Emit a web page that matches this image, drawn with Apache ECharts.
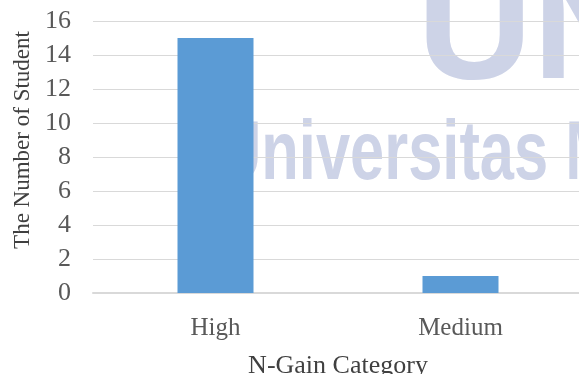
<!DOCTYPE html>
<html>
<head>
<meta charset="utf-8">
<script src="https://cdn.jsdelivr.net/npm/echarts@6/dist/echarts.min.js"></script>
<style>
html, body { margin: 0; padding: 0; background: #fff; }
#main { width: 579px; height: 374px; }
</style>
</head>
<body>
<div id="main"></div>
<script>
var myChart = echarts.init(document.getElementById('main'));

var categories = ['High', 'Medium'];
var students = [15, 1];
var yTicks = { min: 0, max: 16, step: 2 };

var serif = '"Liberation Serif", "Times New Roman", serif';
var markFont = 'bold {s}px "Liberation Sans", Arial, sans-serif';

var option = {
    animation: false,
    graphic: [
        {
            type: 'text', x: 417, y: -46, z: -10,
            style: { text: 'UN', fill: '#cdd3e7', font: markFont.replace('{s}', 160) }
        },
        {
            type: 'text', x: 217, y: 115, scaleX: 0.74, z: -10,
            style: { text: 'Universitas M', fill: '#cdd3e7', font: markFont.replace('{s}', 83) }
        }
    ],
    grid: {
        left: 93,
        right: -4,
        top: 21,
        bottom: 81,
        containLabel: false,
        outerBoundsMode: 'none'
    },
    xAxis: {
        type: 'category',
        data: categories,
        name: 'N-Gain Category',
        nameLocation: 'middle',
        nameGap: 60,
        nameTextStyle: { fontFamily: serif, fontSize: 26, color: '#404040' },
        axisLine: { lineStyle: { color: '#d9d9d9', width: 2 } },
        axisTick: { show: false },
        axisLabel: { fontFamily: serif, fontSize: 25, color: '#595959', margin: 23 }
    },
    yAxis: {
        type: 'value',
        min: yTicks.min,
        max: yTicks.max,
        interval: yTicks.step,
        name: 'The Number of Student',
        nameLocation: 'middle',
        nameGap: 58,
        nameTextStyle: { fontFamily: serif, fontSize: 23, color: '#404040', padding: [0, 0, 0, 34] },
        axisLine: { show: false },
        axisTick: { show: false },
        axisLabel: { fontFamily: serif, fontSize: 26, color: '#595959', margin: 22 },
        splitLine: { lineStyle: { color: '#d9d9d9', width: 1 } }
    },
    series: [{
        type: 'bar',
        data: students,
        barWidth: 76,
        itemStyle: { color: '#5b9bd5' }
    }]
};
myChart.setOption(option);
</script>
</body>
</html>
